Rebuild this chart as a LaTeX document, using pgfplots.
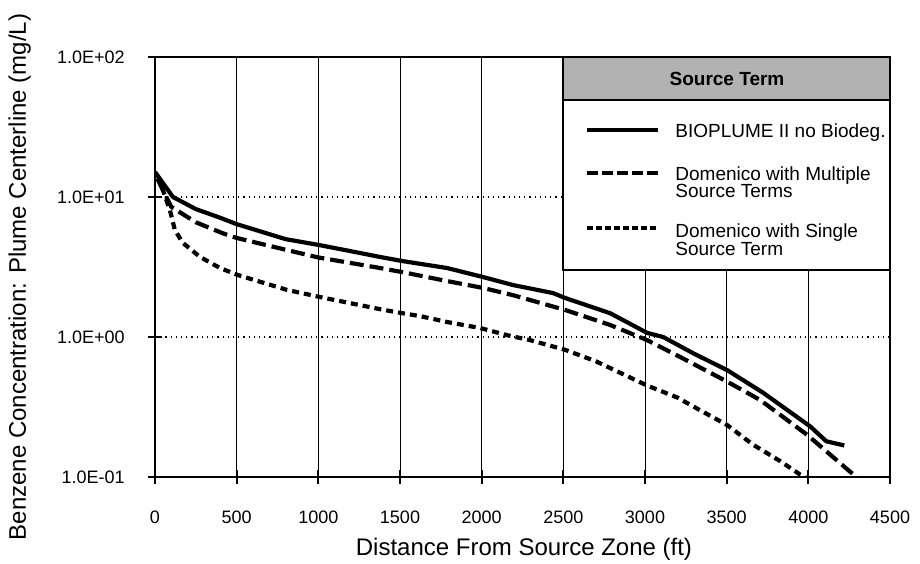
\documentclass[border=0pt]{standalone}
\usepackage{fontspec}
\setmainfont{Liberation Sans}
\usepackage{pgfplots}
\pgfplotsset{compat=1.18}

\begin{document}
\begin{tikzpicture}
\useasboundingbox (-77.5pt,-43pt) rectangle (382.5pt,238.5pt);
\begin{axis}[
  at={(0,0)}, anchor=south west,
  width=367.5pt, height=210pt, scale only axis,
  ymode=log, xmin=0, xmax=4500, ymin=0.1, ymax=100,
  xtick={0,500,...,4500},
  ytick={0.1,1,10,100},
  yticklabels={1.0E-01,1.0E+00,1.0E+01,1.0E+02},
  yminorticks=false,
  tick pos=left,
  tick align=center, major tick length=7pt,
  tick style={black, line width=1pt},
  axis line style={line width=1.3pt},
  xmajorgrids, ymajorgrids,
  major x grid style={black, line width=0.5pt},
  major y grid style={black, line width=0.6pt, dotted},
  /pgf/number format/1000 sep={},
  /pgf/number format/assume math mode=true,
  scaled x ticks=false,
  ticklabel style={font=\fontsize{9}{10}\selectfont},
  xticklabel style={anchor=base, yshift=-20pt, inner sep=0pt},
  yticklabel style={anchor=east, inner sep=0pt, xshift=-11.5pt},
  xlabel={Distance From Source Zone (ft)},
  ylabel={Benzene Concentration: Plume Centerline (mg/L)},
  label style={font=\fontsize{12}{14}\selectfont},
  xlabel style={at={(axis description cs:0.502,-0.186)}, anchor=base},
  ylabel style={at={(axis description cs:-0.184,0.476)}, anchor=center},
  every axis plot/.append style={black, line width=2.1pt, line join=round},
]
% BIOPLUME II no Biodeg.
\addplot[solid] coordinates {
 (0,15.1) (110,10) (250,8.2) (400,7.1) (500,6.4) (800,5.0) (1000,4.55)
 (1200,4.1) (1378,3.73) (1513,3.49) (1788,3.11) (2009,2.68) (2192,2.35)
 (2437,2.06) (2511,1.90) (2786,1.48) (3013,1.07) (3111,1.0) (3300,0.76)
 (3503,0.58) (3723,0.40) (4011,0.23) (4110,0.18) (4220,0.168)
};
% Domenico with multiple source terms
\addplot[dash pattern=on 7pt off 3pt] coordinates {
 (15,13.5) (60,10.5) (100,8.5) (250,6.6) (416,5.5) (500,5.1) (800,4.2)
 (1000,3.7) (1378,3.11) (1513,2.91) (1788,2.51) (2009,2.24) (2192,1.99)
 (2511,1.56) (2786,1.22) (3013,0.95) (3215,0.72) (3503,0.48) (3705,0.355)
 (3993,0.20) (4256,0.109) (4320,0.095)
};
% Domenico with single source term
\addplot[dash pattern=on 3.5pt off 2.5pt] coordinates {
 (20,14) (92,8) (122,5.8) (171,4.7) (276,3.73) (398,3.11) (508,2.77)
 (808,2.17) (1010,1.93) (1378,1.58) (1513,1.48) (1623,1.41) (1788,1.28)
 (1990,1.16) (2156,1.03) (2296,0.95) (2511,0.81) (2700,0.67)
 (3013,0.45) (3197,0.37) (3337,0.30) (3503,0.235) (3662,0.17) (3827,0.13)
 (3950,0.104) (3990,0.098)
};
\end{axis}
% legend box
\fill[white] (204pt,103.5pt) rectangle (367.5pt,210pt);
\fill[black!30] (204pt,188.5pt) rectangle (367.5pt,210pt);
\draw[line width=1.3pt] (204pt,103.5pt) rectangle (367.5pt,210pt);
\draw[line width=1pt] (204pt,188.5pt) -- (367.5pt,188.5pt);
\node[anchor=base, inner sep=0pt, font=\bfseries\fontsize{9.5}{11}\selectfont] at (286pt,195.5pt) {Source Term};
\begin{scope}[every node/.style={anchor=base west, inner sep=0pt, font=\fontsize{9.5}{11}\selectfont}]
\draw[line width=2pt] (216pt,173.5pt) -- (251.5pt,173.5pt);
\node at (260pt,170pt) {BIOPLUME II no Biodeg.};
\draw[line width=2pt, dash pattern=on 5.5pt off 2pt] (216pt,152pt) -- (251.5pt,152pt);
\node at (260pt,148.5pt) {Domenico with Multiple};
\node at (260pt,140pt) {Source Terms};
\draw[line width=2pt, dash pattern=on 2.8pt off 1.7pt] (216pt,124.5pt) -- (251.5pt,124.5pt);
\node at (260pt,120pt) {Domenico with Single};
\node at (260pt,111pt) {Source Term};
\end{scope}
\end{tikzpicture}
\end{document}
